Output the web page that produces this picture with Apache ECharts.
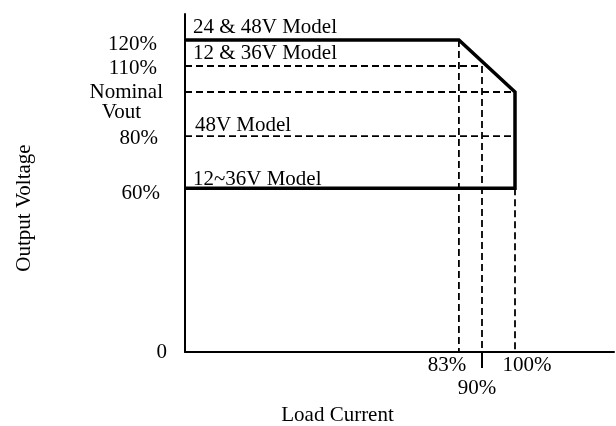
<!DOCTYPE html>
<html>
<head>
<meta charset="utf-8">
<script src="https://cdn.jsdelivr.net/npm/echarts@6/dist/echarts.min.js"></script>
<style>
html,body{margin:0;padding:0;background:#fff;overflow:hidden;}
#chart{width:616px;height:426px;}
</style>
</head>
<body>
<div id="chart"></div>
<script>
// ---- data (schematic levels read against a linear 0..130 scale) ----
const xTicks = [83, 90, 100];
const xTickLabels = ['83%', '90%', '100%'];
const yLevels = [0, 63, 83, 100, 110, 120];
const yTickLabels = ['0', '60%', '80%', 'Nominal Vout', '110%', '120%'];

const limitCurve = [[0, 120], [83, 120], [100, 100], [100, 63], [0, 63]];
const guide110 = [[0, 110], [90, 110]];
const guideNominal = [[0, 100], [100, 100]];
const guide80 = [[0, 83], [100, 83]];
const guideV83 = [[83, 120], [83, 0]];
const guideV90 = [[90, 110], [90, 0]];
const guideV100 = [[100, 63], [100, 0]];

const modelNames = ['24 & 48V Model', '12 & 36V Model', '48V Model', '12~36V Model'];
const modelAnchors = [[2.4, 125], [2.4, 115], [3, 87.3], [2.4, 66.2]];

// ---- chart ----
const FONT = "'Liberation Serif', 'Times New Roman', serif";
const FS = 21;
const chart = echarts.init(document.getElementById('chart'), null, {renderer: 'canvas', width: 616, height: 426});

const yRich = {
  l0: {padding: [0, 0, 0, 0]},
  l60: {padding: [10, 7, 0, 0]},
  l80: {padding: [4, 9, 0, 0]},
  e: {lineHeight: 20},
  n: {lineHeight: 20, padding: [0, 4, 0, 0]},
  v: {lineHeight: 20, padding: [0, 26, 0, 0]},
  l110: {padding: [4, 10, 0, 0]},
  l120: {padding: [8, 10, 0, 0]}
};
const yStyleKeys = ['l0', 'l60', 'l80', null, 'l110', 'l120'];

const xRich = {
  a: {padding: [0, 24, 0, 0]},
  b: {padding: [23, 10, 0, 0]},
  c: {padding: [0, 0, 0, 24]}
};
const xStyleKeys = ['a', 'b', 'c'];

const guides = [guide110, guideNominal, guide80, guideV83, guideV90, guideV100];

const series = [];
guides.forEach(function (g) {
  series.push({
    type: 'line', data: g, symbol: 'none', silent: true, animation: false,
    lineStyle: {color: '#000', width: 1.8, type: [7, 4]}, z: 2
  });
});
series.push({
  type: 'line', data: limitCurve, symbol: 'none', silent: true, animation: false,
  lineStyle: {color: '#000', width: 3.5, join: 'miter', cap: 'butt'}, z: 3
});
series.push({
  type: 'scatter', symbolSize: 0, silent: true, animation: false,
  itemStyle: {color: '#000', opacity: 1},
  data: modelAnchors.map(function (p, i) { return {value: p, name: modelNames[i]}; }),
  label: {
    show: true, position: 'right', distance: 0,
    formatter: function (p) { return p.name; },
    color: '#000', opacity: 1, fontFamily: FONT, fontSize: FS
  }
});

chart.setOption({
  backgroundColor: '#fff',
  animation: false,
  grid: {left: 185, right: 2, top: 14, bottom: 74, containLabel: false, outerBoundsMode: 'none'},
  xAxis: {
    type: 'value', min: 0, max: 130,
    name: 'Load Current', nameLocation: 'middle', nameGap: 53,
    nameTextStyle: {color: '#000', fontFamily: FONT, fontSize: FS, padding: [0, 124, 0, 0]},
    axisLine: {show: true, lineStyle: {color: '#000', width: 2}},
    splitLine: {show: false},
    axisTick: {show: true, customValues: [90], length: 16, lineStyle: {color: '#000', width: 2}},
    axisLabel: {
      show: true, customValues: xTicks, margin: 3,
      color: '#000', fontFamily: FONT, fontSize: FS,
      formatter: function (v) {
        const i = xTicks.indexOf(v);
        return '{' + xStyleKeys[i] + '|' + xTickLabels[i] + '}';
      },
      rich: xRich
    }
  },
  yAxis: {
    type: 'value', min: 0, max: 130,
    name: 'Output Voltage', nameLocation: 'middle', nameGap: 150, nameRotate: 90,
    nameTextStyle: {color: '#000', fontFamily: FONT, fontSize: FS, padding: [0, 50, 0, 0]},
    axisLine: {show: true, lineStyle: {color: '#000', width: 2}},
    splitLine: {show: false},
    axisTick: {show: false},
    axisLabel: {
      show: true, customValues: yLevels, margin: 18,
      color: '#000', fontFamily: FONT, fontSize: FS,
      formatter: function (v) {
        const i = yLevels.indexOf(v);
        if (yStyleKeys[i] === null) {
          const parts = yTickLabels[i].split(' ');
          return '{e| }\n{n|' + parts[0] + '}\n{v|' + parts[1] + '}';
        }
        return '{' + yStyleKeys[i] + '|' + yTickLabels[i] + '}';
      },
      rich: yRich
    }
  },
  series: series
});
</script>
</body>
</html>
